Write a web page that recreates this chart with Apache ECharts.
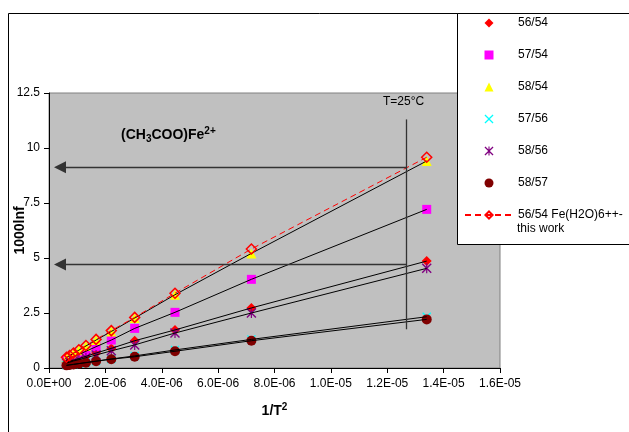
<!DOCTYPE html>
<html>
<head>
<meta charset="utf-8">
<script src="https://cdn.jsdelivr.net/npm/echarts@6/dist/echarts.min.js"></script>
<style>
  html, body { margin: 0; padding: 0; background: #fff; }
  #chart { width: 629px; height: 432px; }
</style>
</head>
<body>
<div id="chart"></div>
<script>
// 1/T^2 for T = 273.15 ... 1273.15 K (0 to 1000 °C, 100 °C steps)
const invT2 = [1.34e-5, 7.18e-6, 4.47e-6, 3.04e-6, 2.21e-6, 1.67e-6, 1.31e-6, 1.06e-6, 8.7e-7, 7.3e-7, 6.2e-7];

// 1000 ln f for each isotope pair
const r56_54 = [4.86, 2.73, 1.73, 1.24, 0.89, 0.68, 0.53, 0.43, 0.35, 0.30, 0.25];
const r57_54 = [7.21, 4.03, 2.53, 1.80, 1.27, 0.97, 0.76, 0.62, 0.51, 0.43, 0.36];
const r58_54 = [9.41, 5.21, 3.33, 2.27, 1.66, 1.27, 1.00, 0.81, 0.67, 0.56, 0.48];
const r57_56 = [2.33, 1.30, 0.82, 0.55, 0.41, 0.31, 0.25, 0.20, 0.17, 0.14, 0.12];
const r58_56 = [4.53, 2.50, 1.59, 1.05, 0.78, 0.59, 0.47, 0.38, 0.32, 0.26, 0.23];
const r58_57 = [2.21, 1.24, 0.76, 0.51, 0.40, 0.31, 0.24, 0.20, 0.16, 0.14, 0.12];
const r56_54_hexaaqua = [9.58, 5.41, 3.40, 2.30, 1.70, 1.30, 1.02, 0.83, 0.68, 0.57, 0.49];

const seriesNames = ['56/54', '57/54', '58/54', '57/56', '58/56', '58/57', '56/54 Fe(H2O)6++-this work'];

// Axis ticks
const xTicks = { min: 0, max: 1.6e-5, step: 2e-6 };
const yTicks = { min: 0, max: 12.5, step: 2.5 };

// Reference markers: 25 °C line and the two arrows
const markerX = 1.269e-5;
const markerYRange = [1.76, 11.3];
const arrowLevels = [9.12, 4.71];
const arrowTipX = 3.9e-7;

const FONT = 'Liberation Sans, Arial, sans-serif';

const pairs = (ys) => invT2.map((x, i) => [x, ys[i]]);

// marker shapes (square-boxed paths so they keep their aspect in the legend)
const diamondShape = 'path://M5,0L10,5L5,10L0,5Z';
const squareShape = 'path://M0,0L10,0L10,10L0,10Z';
const triangleShape = 'path://M5,0L10,10L0,10Z';
const xShape = 'path://M0,1L1,0L5,4L9,0L10,1L6,5L10,9L9,10L5,6L1,10L0,9L4,5Z';
const starShape = 'path://M0,1L1,0L5,4L9,0L10,1L6,5L10,9L9,10L5,6L1,10L0,9L4,5Z M4.4,0L5.6,0L5.6,10L4.4,10Z';

const markerDefs = [
  { name: seriesNames[0], data: r56_54, symbol: diamondShape, size: 10, color: '#FF0000' },
  { name: seriesNames[1], data: r57_54, symbol: squareShape, size: 9, color: '#FF00FF' },
  { name: seriesNames[2], data: r58_54, symbol: triangleShape, size: 10, color: '#FFFF00' },
  { name: seriesNames[3], data: r57_56, symbol: xShape, size: 9, color: '#00FFFF' },
  { name: seriesNames[4], data: r58_56, symbol: starShape, size: 10, color: '#800080' },
  { name: seriesNames[5], data: r58_57, symbol: 'circle', size: 10, color: '#800000' }
];

const series = [];
markerDefs.forEach(d => {
  series.push({
    name: d.name,
    type: 'scatter',
    data: pairs(d.data),
    symbol: d.symbol,
    symbolSize: d.size,
    symbolKeepAspect: true,
    itemStyle: { color: d.color, opacity: 1 },
    emphasis: { disabled: true },
    z: 2
  });
});

// black trend lines through each literature pair
markerDefs.forEach((d, i) => {
  const s = {
    name: 'trend ' + d.name,
    type: 'line',
    data: pairs(d.data),
    showSymbol: false,
    symbol: 'none',
    lineStyle: { color: '#000', width: 1 },
    emphasis: { disabled: true },
    silent: true,
    z: 3
  };
  if (i === markerDefs.length - 1) {
    const seg = (x1, y1, x2, y2, endSymbol) => [
      { coord: [x1, y1], symbol: 'none' },
      { coord: [x2, y2], symbol: endSymbol, symbolSize: [12, 12] }
    ];
    s.markLine = {
      silent: true,
      animation: false,
      symbol: ['none', 'none'],
      label: { show: false },
      emphasis: { disabled: true },
      lineStyle: { color: '#333', width: 1.3, type: 'solid' },
      data: [
        seg(markerX, markerYRange[0], markerX, markerYRange[1], 'none'),
        seg(markerX, arrowLevels[0], arrowTipX, arrowLevels[0], 'triangle'),
        seg(markerX, arrowLevels[1], arrowTipX, arrowLevels[1], 'triangle')
      ]
    };
  }
  series.push(s);
});

series.push({
  name: seriesNames[6],
  type: 'line',
  data: pairs(r56_54_hexaaqua),
  symbol: diamondShape,
  symbolSize: 10,
  symbolKeepAspect: true,
  showAllSymbol: true,
  itemStyle: { color: 'rgba(255,255,255,0)', borderColor: '#FF0000', borderWidth: 1.5 },
  lineStyle: { color: '#FF0000', width: 1, type: [6, 4] },
  emphasis: { disabled: true },
  z: 4
});

const fmtExp = v => {
  const parts = v.toExponential(1).split('e');
  const sign = parts[1][0];
  const digits = parts[1].slice(1).padStart(2, '0');
  return parts[0] + 'E' + sign + digits;
};

const legendIcons = {};
markerDefs.forEach(d => { legendIcons[d.name] = d.symbol; });

const chart = echarts.init(document.getElementById('chart'), null, { renderer: 'canvas' });
chart.setOption({
  animation: false,
  backgroundColor: '#fff',
  textStyle: { fontFamily: FONT },
  grid: {
    left: 49, right: 129, top: 93, bottom: 64,
    containLabel: false,
    outerBoundsMode: 'none',
    show: true, backgroundColor: '#C0C0C0', borderColor: '#808080', borderWidth: 1
  },
  xAxis: {
    type: 'value',
    min: xTicks.min, max: xTicks.max, interval: xTicks.step,
    name: '{n|1/T}{s|2}',
    nameLocation: 'middle',
    nameGap: 34,
    nameMoveOverlap: false,
    nameTextStyle: {
      rich: {
        n: { fontFamily: FONT, fontSize: 14, fontWeight: 'bold', color: '#000' },
        s: { fontFamily: FONT, fontSize: 10, fontWeight: 'bold', color: '#000', verticalAlign: 'top', padding: [0, 0, 8, 0] }
      }
    },
    axisLine: { show: true, onZero: false, lineStyle: { color: '#000', width: 1 } },
    axisTick: { show: true, inside: false, length: 5, lineStyle: { color: '#000' } },
    axisLabel: { color: '#000', fontSize: 12, fontFamily: FONT, margin: 10, formatter: fmtExp },
    splitLine: { show: false }
  },
  yAxis: {
    type: 'value',
    min: yTicks.min, max: yTicks.max, interval: yTicks.step,
    name: '1000lnf',
    nameLocation: 'middle',
    nameGap: 22,
    nameMoveOverlap: false,
    nameRotate: 90,
    nameTextStyle: { fontFamily: FONT, fontSize: 14, fontWeight: 'bold', color: '#000' },
    axisLine: { show: true, onZero: false, lineStyle: { color: '#000', width: 1 } },
    axisTick: { show: true, inside: false, length: 5, lineStyle: { color: '#000' } },
    axisLabel: { color: '#000', fontSize: 12, fontFamily: FONT, margin: 9 },
    splitLine: { show: false }
  },
  legend: {
    orient: 'vertical',
    left: 464,
    top: 16,
    padding: 0,
    itemWidth: 48,
    itemHeight: 9,
    itemGap: 18,
    selectedMode: false,
    symbolKeepAspect: true,
    z: 100,
    textStyle: { fontFamily: FONT, fontSize: 12, color: '#000', lineHeight: 14 },
    formatter: name => name === seriesNames[6] ? '56/54 Fe(H2O)6++-' : name,
    data: seriesNames.map(n => legendIcons[n] ? { name: n, icon: legendIcons[n] } : { name: n })
  },
  graphic: [
    {
      type: 'rect', z: 1,
      shape: { x: 8.5, y: 13.5, width: 700, height: 500 },
      style: { fill: 'none', stroke: '#000', lineWidth: 1 },
      silent: true
    },
    {
      type: 'rect', z: 50,
      shape: { x: 457.5, y: 13.5, width: 300, height: 231 },
      style: { fill: '#fff', stroke: '#000', lineWidth: 1 },
      silent: true
    },
    {
      type: 'text', z: 100, left: 517, top: 223,
      style: { text: 'this work', font: '12px ' + FONT, fill: '#000' },
      silent: true
    },
    {
      type: 'text', z: 20, left: 383, top: 96,
      style: { text: 'T=25°C', font: '12px ' + FONT, fill: '#000' },
      silent: true
    },
    {
      type: 'text', z: 20, left: 121, top: 126,
      style: {
        text: '{a|(CH}{b|3}{a|COO)Fe}{c|2+}',
        rich: {
          a: { fontFamily: FONT, fontSize: 14, fontWeight: 'bold', fill: '#000' },
          b: { fontFamily: FONT, fontSize: 10, fontWeight: 'bold', fill: '#000', padding: [8, 0, 0, 0] },
          c: { fontFamily: FONT, fontSize: 10, fontWeight: 'bold', fill: '#000', padding: [0, 0, 8, 0] }
        }
      },
      silent: true
    }
  ],
  series: series
});
</script>
</body>
</html>
